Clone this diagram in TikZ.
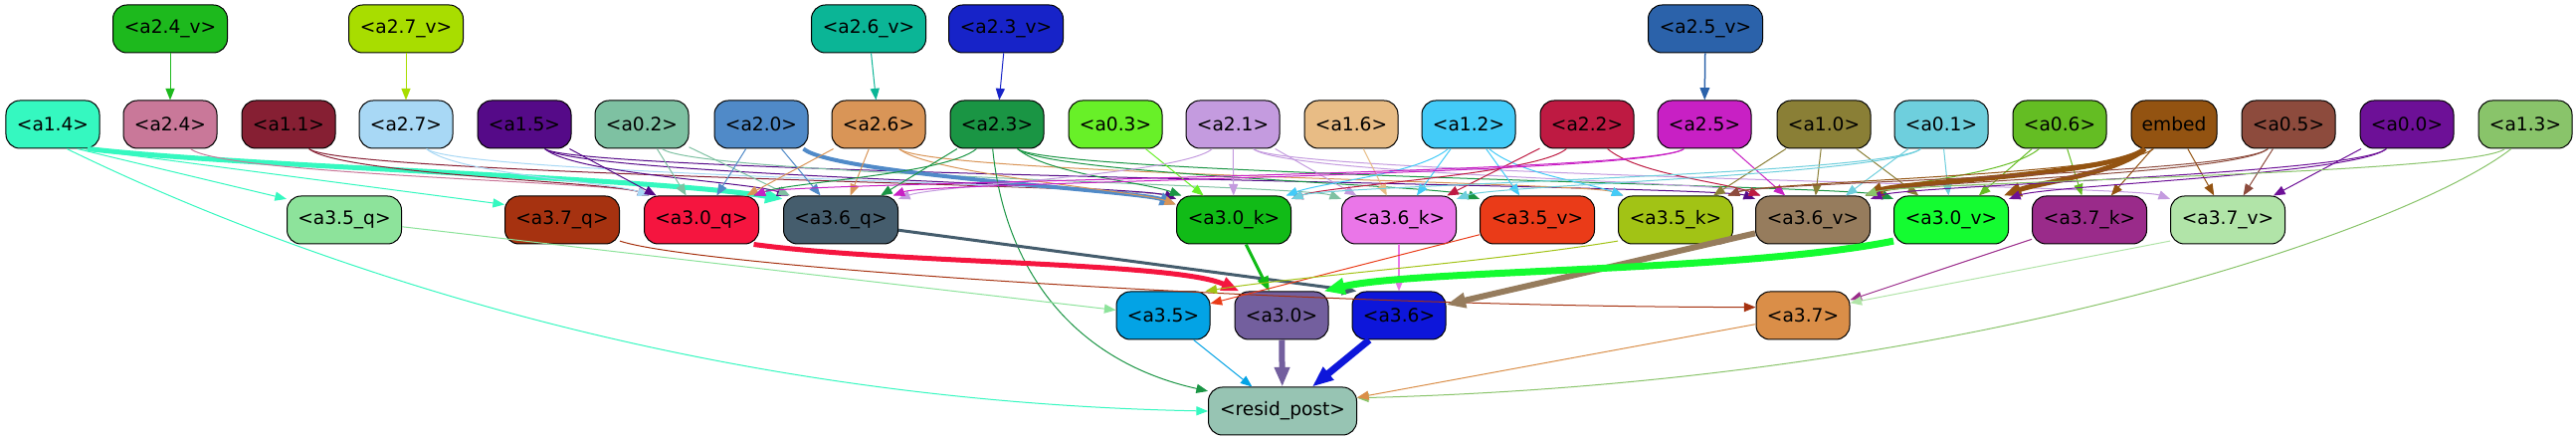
\documentclass[tikz,border=0pt]{standalone}
\usepackage{fontspec}
\setmainfont{DejaVu Sans}
\usetikzlibrary{arrows.meta}
\definecolor{cv24}{HTML}{1DB91D}
\definecolor{cv27}{HTML}{A8DD00}
\definecolor{cv26}{HTML}{0BB596}
\definecolor{cv23}{HTML}{1723C8}
\definecolor{cv25}{HTML}{2B62AA}
\definecolor{c14}{HTML}{35F8C0}
\definecolor{c24}{HTML}{C97899}
\definecolor{c11}{HTML}{861F33}
\definecolor{c27}{HTML}{A8D8F5}
\definecolor{c15}{HTML}{550A88}
\definecolor{c02}{HTML}{7EC1A2}
\definecolor{c20}{HTML}{508AC8}
\definecolor{c26}{HTML}{D99557}
\definecolor{c23}{HTML}{1A9544}
\definecolor{c03}{HTML}{68F028}
\definecolor{c21}{HTML}{C49BDF}
\definecolor{c16}{HTML}{E8BC85}
\definecolor{c12}{HTML}{43CBF8}
\definecolor{c22}{HTML}{BE1A42}
\definecolor{c25}{HTML}{C820C4}
\definecolor{c10}{HTML}{8A7F36}
\definecolor{c01}{HTML}{6ECFDD}
\definecolor{c06}{HTML}{64BD23}
\definecolor{cem}{HTML}{935311}
\definecolor{c05}{HTML}{8D4B3D}
\definecolor{c00}{HTML}{6D1097}
\definecolor{c13}{HTML}{89C46A}
\definecolor{cq35}{HTML}{8DE39B}
\definecolor{cq37}{HTML}{A63210}
\definecolor{cq30}{HTML}{F5153F}
\definecolor{cq36}{HTML}{455D6D}
\definecolor{ck30}{HTML}{11BB17}
\definecolor{ck36}{HTML}{EA76E8}
\definecolor{cvv35}{HTML}{EA3B18}
\definecolor{ck35}{HTML}{A2C315}
\definecolor{cvv36}{HTML}{967C5D}
\definecolor{cvv30}{HTML}{14FC31}
\definecolor{ck37}{HTML}{9A2B8A}
\definecolor{cvv37}{HTML}{B1E4A8}
\definecolor{cm35}{HTML}{03A3E5}
\definecolor{cm30}{HTML}{735F9E}
\definecolor{cm36}{HTML}{0D16DA}
\definecolor{cm37}{HTML}{DA8E48}
\definecolor{cres}{HTML}{97C4B3}
\begin{document}
\begin{tikzpicture}[x=1bp,y=1bp,
  nd/.style={draw=black, line width=1bp, rounded corners=14bp, minimum height=48bp,
    inner sep=0pt, text=black, font=\fontsize{18.6bp}{22bp}\selectfont},
  wa/.style={nd, minimum width=94bp},
  wb/.style={nd, minimum width=115bp},
  edg/.style={line width=1bp, -{Triangle[length=10bp 1.6,width=8bp 1.1]}}]
\useasboundingbox (0,0) rectangle (2589,443);
\fill[white] (0,0) rectangle (2589,443);
% row 0
\node[wb,fill=cv24] (v24) at (171,414) {<a2.4\_v>};
\node[wb,fill=cv27] (v27) at (408,414) {<a2.7\_v>};
\node[wb,fill=cv26] (v26) at (873,414) {<a2.6\_v>};
\node[wb,fill=cv23] (v23) at (1011,414) {<a2.3\_v>};
\node[wb,fill=cv25] (v25) at (1714,414) {<a2.5\_v>};
% row 1
\node[wa,fill=c14] (n14) at (53,318) {<a1.4>};
\node[wa,fill=c24] (n24) at (171,318) {<a2.4>};
\node[wa,fill=c11] (n11) at (290,318) {<a1.1>};
\node[wa,fill=c27] (n27) at (408,318) {<a2.7>};
\node[wa,fill=c15] (n15) at (527,318) {<a1.5>};
\node[wa,fill=c02] (n02) at (645,318) {<a0.2>};
\node[wa,fill=c20] (n20) at (765,318) {<a2.0>};
\node[wa,fill=c26] (n26) at (883,318) {<a2.6>};
\node[wa,fill=c23] (n23) at (1002,318) {<a2.3>};
\node[wa,fill=c03] (n03) at (1121,318) {<a0.3>};
\node[wa,fill=c21] (n21) at (1239,318) {<a2.1>};
\node[wa,fill=c16] (n16) at (1358,318) {<a1.6>};
\node[wa,fill=c12] (n12) at (1476,318) {<a1.2>};
\node[wa,fill=c22] (n22) at (1595,318) {<a2.2>};
\node[wa,fill=c25] (n25) at (1713,318) {<a2.5>};
\node[wa,fill=c10] (n10) at (1833,318) {<a1.0>};
\node[wa,fill=c01] (n01) at (1951,318) {<a0.1>};
\node[wa,fill=c06] (n06) at (2070,318) {<a0.6>};
\node[nd,minimum width=86bp,fill=cem] (emb) at (2185,318) {embed};
\node[wa,fill=c05] (n05) at (2300,318) {<a0.5>};
\node[wa,fill=c00] (n00) at (2419,318) {<a0.0>};
\node[wa,fill=c13] (n13) at (2538,318) {<a1.3>};
% row 2
\node[wb,fill=cq35] (q35) at (346,222) {<a3.5\_q>};
\node[wb,fill=cq37] (q37) at (565,222) {<a3.7\_q>};
\node[wb,fill=cq30] (q30) at (705,222) {<a3.0\_q>};
\node[wb,fill=cq36] (q36) at (845,222) {<a3.6\_q>};
\node[wb,fill=ck30] (k30) at (1240,222) {<a3.0\_k>};
\node[wb,fill=ck36] (k36) at (1406,222) {<a3.6\_k>};
\node[wb,fill=cvv35] (v35) at (1545,222) {<a3.5\_v>};
\node[wb,fill=ck35] (k35) at (1684,222) {<a3.5\_k>};
\node[wb,fill=cvv36] (v36) at (1822,222) {<a3.6\_v>};
\node[wb,fill=cvv30] (v30) at (1961,222) {<a3.0\_v>};
\node[wb,fill=ck37] (k37) at (2100,222) {<a3.7\_k>};
\node[wb,fill=cvv37] (v37) at (2239,222) {<a3.7\_v>};
% row 3
\node[wa,fill=cm35] (m35) at (1169,126) {<a3.5>};
\node[wa,fill=cm30] (m30) at (1288,126) {<a3.0>};
\node[wa,fill=cm36] (m36) at (1406,126) {<a3.6>};
\node[wa,fill=cm37] (m37) at (1812,126) {<a3.7>};
% row 4
\node[nd,minimum width=149bp,fill=cres] (res) at (1289,30) {<resid\_post>};
% ---- edges: top
\draw[edg,cv24] (v24) -- (n24);
\draw[edg,cv27] (v27) -- (n27);
\draw[edg,cv26] (v26) -- (n26);
\draw[edg,cv23] (v23) -- (n23);
\draw[edg,cv25,line width=1.5bp] (v25) -- (n25);
% a1.4
\draw[edg,c14] (n14.-45) -- (q35.160);
\draw[edg,c14] (n14.-40) -- (q37.165);
\draw[edg,c14,line width=5bp] (n14.-35) .. controls (250,275) and (650,265) .. (q36.160);
\draw[edg,c14] (n14.-60) .. controls (300,180) and (700,40) .. (res.west);
% a2.4, a1.1, a2.7
\draw[edg,c24] (n24.-50) .. controls +(-40:40) and +(160:40) .. (q30.155);
\draw[edg,c11] (n11.-50) .. controls +(-40:40) and +(160:40) .. (q30.155);
\draw[edg,c11] (n11.-50) .. controls +(-40:40) and +(160:40) .. (k30.160);
\draw[edg,c27] (n27.-50) .. controls +(-40:40) and +(160:40) .. (q30.155);
\draw[edg,c27] (n27.-50) .. controls +(-40:40) and +(160:40) .. (k30.160);
% a1.5
\draw[edg,c15] (n15) -- (q30);
\draw[edg,c15] (n15.-50) .. controls +(-40:40) and +(160:40) .. (q36.155);
\draw[edg,c15] (n15.-50) .. controls +(-40:40) and +(160:40) .. (k30.160);
\draw[edg,c15] (n15.-50) .. controls +(-40:40) and +(160:40) .. (v36.160);
% a0.2
\draw[edg,c02] (n02) -- (q30);
\draw[edg,c02] (n02) -- (q36);
\draw[edg,c02] (n02.-50) .. controls +(-40:40) and +(160:40) .. (k36.160);
% a2.0
\draw[edg,c20] (n20) -- (q30);
\draw[edg,c20] (n20) -- (q36);
\draw[edg,c20,line width=4bp] (n20.-30) .. controls +(-40:40) and +(160:40) .. (k30.165);
% a2.6
\draw[edg,c26] (n26) -- (q30);
\draw[edg,c26] (n26) -- (q36);
\draw[edg,c26] (n26.-50) .. controls +(-40:40) and +(160:40) .. (k30.165);
\draw[edg,c26] (n26.-50) .. controls +(-40:40) and +(160:40) .. (k35.155);
% a2.3
\draw[edg,c23] (n23.-130) .. controls +(-140:40) and +(20:40) .. (q30.25);
\draw[edg,c23] (n23) -- (q36);
\draw[edg,c23] (n23.-50) .. controls +(-40:40) and +(160:40) .. (k30.155);
\draw[edg,c23] (n23.-50) .. controls +(-40:40) and +(160:40) .. (v35.160);
\draw[edg,c23] (n23.-50) .. controls +(-40:40) and +(160:40) .. (v30.160);
\draw[edg,c23] (n23.-100) .. controls (1010,170) and (1080,80) .. (res.165);
% a0.3
\draw[edg,c03] (n03) -- (k30);
% a2.1
\draw[edg,c21] (n21.-130) .. controls +(-140:40) and +(20:40) .. (q36.20);
\draw[edg,c21] (n21) -- (k30);
\draw[edg,c21] (n21) -- (k36);
\draw[edg,c21] (n21.-50) .. controls +(-40:40) and +(160:40) .. (v36.155);
\draw[edg,c21] (n21.-50) .. controls +(-40:40) and +(160:40) .. (v37.160);
% a1.6
\draw[edg,c16] (n16) -- (k36);
% a1.2
\draw[edg,c12] (n12.-130) .. controls +(-140:40) and +(20:40) .. (k30.25);
\draw[edg,c12] (n12) -- (k36);
\draw[edg,c12] (n12) -- (v35);
\draw[edg,c12] (n12.-50) .. controls +(-40:40) and +(160:40) .. (k35.155);
% a2.2
\draw[edg,c22] (n22.-130) .. controls +(-140:40) and +(20:40) .. (k30.20);
\draw[edg,c22] (n22) -- (k36);
\draw[edg,c22] (n22.-50) .. controls +(-40:40) and +(160:40) .. (v36.155);
% a2.5
\draw[edg,c25] (n25.-130) .. controls +(-140:40) and +(20:40) .. (q30.25);
\draw[edg,c25] (n25.-130) .. controls +(-140:40) and +(20:40) .. (q36.25);
\draw[edg,c25] (n25) -- (v36);
% a1.0
\draw[edg,c10] (n10) -- (k35);
\draw[edg,c10] (n10) -- (v36);
\draw[edg,c10] (n10) -- (v30);
% a0.1
\draw[edg,c01] (n01.-130) .. controls +(-140:40) and +(20:40) .. (k30.20);
\draw[edg,c01] (n01.-130) .. controls +(-140:40) and +(20:40) .. (k36.20);
\draw[edg,c01] (n01) -- (v36);
\draw[edg,c01] (n01) -- (v30);
% a0.6
\draw[edg,c06] (n06.-130) .. controls +(-140:40) and +(20:40) .. (v36.25);
\draw[edg,c06] (n06) -- (v30);
\draw[edg,c06] (n06) -- (k37);
% embed
\draw[edg,cem,line width=5bp] (emb.-140) .. controls +(-140:40) and +(20:40) .. (v36.25);
\draw[edg,cem,line width=5bp] (emb.-140) .. controls +(-140:40) and +(20:40) .. (v30.25);
\draw[edg,cem] (emb) -- (k37);
\draw[edg,cem] (emb) -- (v37);
\draw[edg,cem] (emb.-130) .. controls +(-140:40) and +(20:40) .. (k35.25);
% a0.5
\draw[edg,c05] (n05.-130) .. controls +(-140:40) and +(20:40) .. (k35.25);
\draw[edg,c05] (n05.-130) .. controls +(-140:40) and +(20:40) .. (v36.25);
\draw[edg,c05] (n05) -- (v37);
% a0.0
\draw[edg,c00] (n00.-130) .. controls +(-140:40) and +(20:40) .. (v36.20);
\draw[edg,c00] (n00.-130) .. controls +(-140:40) and +(20:40) .. (v30.20);
\draw[edg,c00] (n00) -- (v37);
% a1.3
\draw[edg,c13] (n13.-130) .. controls +(-140:40) and +(20:40) .. (v36.25);
\draw[edg,c13] (n13.-120) .. controls (2430,220) and (2000,60) .. (res.10);
% ---- row 2 -> row 3
\draw[edg,cq35] (q35) -- (m35);
\draw[edg,cq37] (q37.-20) .. controls (700,175) and (1300,135) .. (m37.170);
\draw[edg,cq30,line width=5bp] (q30.-25) .. controls (900,178) and (1180,180) .. (m30.150);
\draw[edg,cq36,line width=3bp] (q36.-10) -- (m36.150);
\draw[edg,ck30,line width=3bp] (k30) -- (m30);
\draw[edg,ck36,line width=2bp] (k36) -- (m36);
\draw[edg,cvv35] (v35) -- (m35);
\draw[edg,ck35] (k35.200) .. controls (1500,180) and (1300,165) .. (m35.30);
\draw[edg,cvv36,line width=6bp] (v36) -- (m36);
\draw[edg,cvv30,line width=7bp] (v30.-160) .. controls (1750,170) and (1420,172) .. (m30.30);
\draw[edg,ck37] (k37) -- (m37);
\draw[edg,cvv37] (v37.200) -- (m37.15);
% ---- row 3 -> resid_post
\draw[edg,cm35] (m35) -- (res);
\draw[edg,cm30,line width=6bp] (m30) -- (res);
\draw[edg,cm36,line width=7bp] (m36) -- (res);
\draw[edg,cm37] (m37) -- (res);
\end{tikzpicture}
\end{document}
